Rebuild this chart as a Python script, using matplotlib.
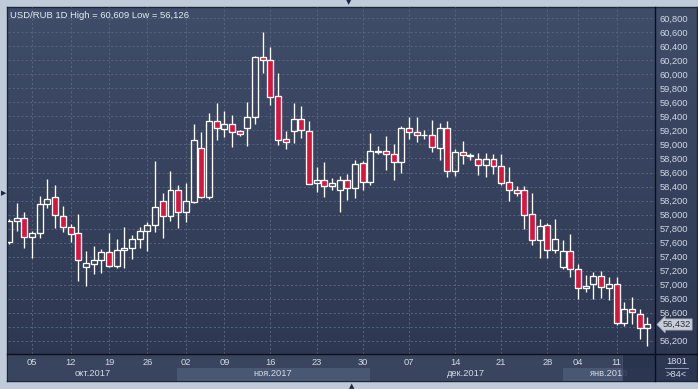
import numpy as np
import matplotlib
matplotlib.use('Agg')
import matplotlib.pyplot as plt
from matplotlib.colors import LinearSegmentedColormap
from matplotlib.lines import Line2D
import matplotlib.transforms as mtransforms

plt.rcParams['font.family'] = ['Liberation Sans', 'DejaVu Sans']

# ---------------- data ----------------
opens = [57605, 57904, 57947, 57687, 57733, 58147, 58247, 57976, 57819, 57733,
         57245, 57291, 57348, 57462, 57269, 57488, 57528, 57647, 57762, 57849,
         58194, 57976, 58346, 58041, 58184, 58946, 58255, 59331, 59225, 59288,
         59188, 59239, 59388, 60244, 60201, 59687, 59074, 59188, 59359, 59188,
         58446, 58489, 58403, 58355, 58489, 58384, 58732, 58461, 58888, 58907,
         58860, 58743, 59231, 59174, 59140, 59131, 58946, 59231, 58617, 58888,
         58843, 58789, 58703, 58789, 58689, 58461, 58346, 58346, 58004, 57633,
         57847, 57491, 57257, 57476, 57219, 56948, 57006, 57120, 56948, 57006,
         56449, 56649, 56578, 56378]
highs = [57937, 58170, 58041, 57766, 58269, 58508, 58422, 58122, 57870, 58008,
         57478, 57552, 57506, 57737, 57649, 57820, 57709, 57827, 57899, 58764,
         58312, 58622, 58422, 58451, 59292, 59181, 59446, 59592, 59478, 59421,
         59209, 59603, 60262, 60609, 60388, 60023, 59192, 59592, 59549, 59335,
         58682, 58747, 58519, 58550, 58579, 58776, 58764, 59161, 58978, 59121,
         59007, 59261, 59392, 59392, 59207, 59349, 59306, 59335, 58931, 59045,
         58874, 58874, 58874, 58860, 58860, 58675, 58403, 58403, 58304, 57933,
         57876, 57933, 57633, 57719, 57291, 57134, 57177, 57191, 57105, 57105,
         56756, 56824, 56649, 56535]
lows = [57580, 57766, 57528, 57385, 57670, 58094, 57813, 57752, 57613, 57057,
        56986, 57155, 57167, 57252, 57242, 57238, 57371, 57528, 57476, 57756,
        57662, 57908, 57813, 57899, 58158, 58232, 58215, 59068, 59110, 58968,
        59124, 58981, 59296, 60024, 59563, 58993, 58940, 59025, 59097, 58440,
        58322, 58254, 58351, 58037, 58211, 58237, 58354, 58426, 58864, 58639,
        58493, 58597, 59078, 59035, 59078, 58888, 58783, 58540, 58555, 58726,
        58779, 58560, 58540, 58583, 58426, 58198, 58261, 57799, 57570, 57385,
        57385, 57448, 57228, 57114, 56800, 56900, 56800, 56814, 56777, 56421,
        56415, 56443, 56230, 56126]
closes = [57908, 57947, 57685, 57733, 58148, 58218, 57990, 57819, 57719, 57348,
          57305, 57352, 57463, 57271, 57492, 57526, 57649, 57763, 57849, 58104,
          57980, 58346, 58037, 58190, 59060, 58255, 59331, 59228, 59288, 59182,
          59154, 59388, 60244, 60201, 59673, 59064, 59031, 59359, 59202, 58443,
          58489, 58403, 58446, 58489, 58384, 58719, 58461, 58903, 58907, 58860,
          58743, 59231, 59174, 59131, 59131, 58960, 59231, 58617, 58888, 58846,
          58836, 58703, 58789, 58689, 58446, 58346, 58304, 57990, 57633, 57833,
          57491, 57647, 57476, 57219, 56948, 56977, 57120, 56963, 57006, 56449,
          56649, 56606, 56378, 56432]

tick_idx = [3, 8, 13, 18, 23, 28, 34, 40, 46, 52, 58, 64, 70, 74, 79]
tick_labels = ['05', '12', '19', '26', '02', '09', '16', '23', '30',
               '07', '14', '21', '28', '04', '11']
month_labels = ['окт.2017', 'ноя.2017', 'дек.2017', 'янв.2018']
month_bounds = [-0.13, 21.8, 46.9, 72.0, 84.0]
price_ticks = list(range(56200, 60801, 200))
title = 'USD/RUB 1D High = 60,609 Low = 56,126'
bar_count_label = '>84<'
period_label = '1801'

# ---------------- layout helpers ----------------
W, H = 698, 389
fig = plt.figure(figsize=(W / 100, H / 100), dpi=100)
fig.patch.set_facecolor('#c0cbda')

def fx(px):
    return px / W

def fy(py):
    return 1 - py / H

XL = (-0.13, 84.0)
YL = (56011, 60961)
TXT = '#d2d9e6'
FS = 6.7

# background of whole chart box (gradient)
bg = fig.add_axes([fx(7), fy(381), 690 / W, 374 / H])
cmap = LinearSegmentedColormap.from_list('bg', ['#404d68', '#2c3651'])
bg.imshow(np.linspace(0, 1, 256)[:, None], aspect='auto', cmap=cmap,
          extent=[0, 1, 0, 1])
bg.set_xticks([]); bg.set_yticks([])
for s in bg.spines.values():
    s.set_color('#1c263a'); s.set_linewidth(1.0)
bg.set_zorder(0)

# bottom date panel
axb = fig.add_axes([fx(8), fy(381), 647 / W, 27 / H])
axb.set_xlim(*XL); axb.set_ylim(0, 1)
axb.set_facecolor('#39455f')
axb.set_xticks([]); axb.set_yticks([])
for s in axb.spines.values():
    s.set_visible(False)
band_cols = ['#39455f', '#4a5773']
for i, lab in enumerate(month_labels):
    a, b = month_bounds[i], month_bounds[i + 1]
    axb.axvspan(a, b, ymin=0, ymax=0.5, color=band_cols[i % 2], lw=0)
for i, lab in enumerate(month_labels):
    a, b = month_bounds[i], month_bounds[i + 1]
    axb.text((a + b) / 2, 0.27, lab, ha='center', va='center',
             fontsize=FS, color=TXT, zorder=3)
for t, lab in zip(tick_idx, tick_labels):
    axb.text(t, 0.69, lab, ha='center', va='center', fontsize=FS, color=TXT,
             zorder=3)
axb.axvspan(79.65, XL[1], ymin=0, ymax=1, facecolor='#27314a', alpha=0.85,
            edgecolor='#4a5670', lw=0.6, zorder=5)
axb.set_zorder(1)

# main price axes
ax = fig.add_axes([fx(8), fy(354), 647 / W, 347 / H])
ax.patch.set_alpha(0)
ax.set_zorder(2)
ax.set_xlim(*XL); ax.set_ylim(*YL)
for s in ax.spines.values():
    s.set_visible(False)
ax.set_xticks(tick_idx)
ax.set_yticks(price_ticks)
last_close = closes[-1]
ax.set_yticklabels(['' if abs(p - last_close) < 100 else f'{p:,}'
                    for p in price_ticks])
ax.yaxis.tick_right()
ax.tick_params(axis='both', length=0, labelbottom=False)
ax.tick_params(axis='y', pad=3, labelsize=FS, labelcolor=TXT)
ax.grid(True, color='#56637f', lw=0.7, ls=(0, (2.2, 2.2)))
ax.set_axisbelow(True)

O = np.array(opens, float); Hh = np.array(highs, float)
L = np.array(lows, float); C = np.array(closes, float)
x = np.arange(len(O))
lo = np.minimum(O, C); hi = np.maximum(O, C)
up = C >= O
ax.vlines(x, hi, Hh, color='white', lw=0.95, zorder=3)
ax.vlines(x, L, lo, color='white', lw=0.95, zorder=3)
ax.bar(x, hi - lo, bottom=lo, width=0.78,
       color=['none' if u else '#dc143c' for u in up],
       edgecolor='white', linewidth=0.95, zorder=4)

# current price tag
trans = mtransforms.blended_transform_factory(ax.transAxes, ax.transData)
ax.text(1.012, last_close, f'{last_close:,}', transform=trans, ha='left',
        va='center', fontsize=FS, color='#2a2f3a', clip_on=False, zorder=10,
        bbox=dict(boxstyle='larrow,pad=0.12', fc='#c9ced7', ec='#9ba4b4',
                  lw=0.5))

# separator lines
fig.add_artist(Line2D([fx(655), fx(655)], [fy(7), fy(381)], color='#0a0f1a',
                      lw=1.0, zorder=20))
fig.add_artist(Line2D([fx(7), fx(697)], [fy(354), fy(354)], color='#0a0f1a',
                      lw=1.0, zorder=20))
fig.add_artist(Line2D([fx(665), fx(688)], [fy(368.3), fy(368.3)],
                      color='#8e9ab0', lw=0.7, zorder=20))

fig.text(fx(676.5), fy(361.8), period_label, ha='center', va='center',
         fontsize=FS, color=TXT, zorder=21)
fig.text(fx(676.5), fy(374.3), bar_count_label, ha='center', va='center',
         fontsize=FS, color=TXT, zorder=21)

fig.text(fx(10), fy(15), title, ha='left', va='center', fontsize=6.8,
         color='#e6ebf3', zorder=21)

# navigation triangles
fig.text(fx(349), fy(2.6), '▼', ha='center', va='center', fontsize=5,
         color='#1d2840', family='DejaVu Sans')
fig.text(fx(352), fy(386.3), '▲', ha='center', va='center', fontsize=5,
         color='#1d2840', family='DejaVu Sans')
fig.text(fx(3.3), fy(193), '▶', ha='center', va='center', fontsize=5,
         color='#1d2840', family='DejaVu Sans')

fig.savefig('out.png', dpi=100, facecolor=fig.get_facecolor())
